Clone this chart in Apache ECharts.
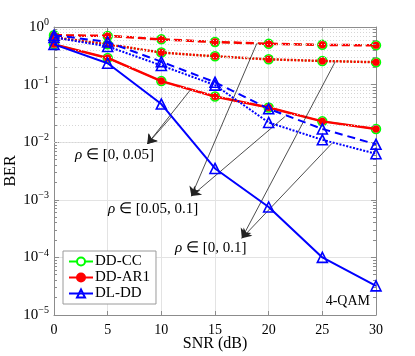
<!DOCTYPE html>
<html>
<head>
<meta charset="utf-8">
<script src="https://cdn.jsdelivr.net/npm/echarts@6/dist/echarts.min.js"></script>
<style>
html,body{margin:0;padding:0;background:#fff;}
#c{width:415px;height:356px;}
</style>
</head>
<body>
<div id="c"></div>
<script>
// ---- data ----
const snr = [0, 5, 10, 15, 20, 25, 30];
const xTicks = [0, 5, 10, 15, 20, 25, 30];
const yTickExps = [0, -1, -2, -3, -4, -5];
const legendNames = ['DD-CC', 'DD-AR1', 'DL-DD'];

// rho in [0, 0.05]  (solid)
const cc_a   = [0.50, 0.29, 0.115, 0.062, 0.040, 0.023, 0.017];
const ar1_a  = [0.50, 0.29, 0.115, 0.062, 0.040, 0.023, 0.017];
const dl_a   = [0.50, 0.235, 0.046, 0.0035, 0.00075, 0.0001, 0.000032];
// rho in [0.05, 0.1] (dashed)
const cc_b   = [0.72, 0.70, 0.61, 0.55, 0.51, 0.49, 0.48];
const ar1_b  = [0.72, 0.70, 0.61, 0.55, 0.51, 0.49, 0.48];
const dl_b   = [0.72, 0.55, 0.25, 0.11, 0.038, 0.017, 0.0092];
// rho in [0, 0.1] (dotted)
const cc_c   = [0.66, 0.50, 0.36, 0.31, 0.275, 0.257, 0.245];
const ar1_c  = [0.66, 0.50, 0.36, 0.31, 0.275, 0.257, 0.245];
const dl_c   = [0.66, 0.46, 0.215, 0.098, 0.022, 0.011, 0.0063];

// annotation arrows (data space): [tail, head]
const arrowsA = [[[12.7, 0.0806], [8.7, 0.0093]], [[11.0, 0.0285], [8.7, 0.0093]]];
const arrowsB = [[[18.9, 0.521], [12.8, 0.00116]], [[21.5, 0.0277], [12.8, 0.00116]]];
const arrowsC = [[[26.2, 0.25], [17.5, 0.000215]], [[25.9, 0.00957], [17.5, 0.000215]]];
const labelA = 'ρ ∈ [0, 0.05]';
const labelB = 'ρ ∈ [0.05, 0.1]';
const labelC = 'ρ ∈ [0, 0.1]';
const labelQ = '4-QAM';

// ---- build ----
const FONT = 'Liberation Serif';
const pair = (ys) => snr.map((x, i) => [x, ys[i]]);
const richRho = (s) => '{i|ρ}' + s.slice(1);

const minorVals = [];
for (let e = -5; e < 0; e++) for (let m = 2; m <= 9; m++) minorVals.push(m * Math.pow(10, e));

const gridMinor = minorVals.map(v => ({ yAxis: v }));
const tickMinor = [];
minorVals.forEach(v => {
  tickMinor.push([{ coord: [0, v] }, { coord: [0.28, v] }]);
  tickMinor.push([{ coord: [29.72, v] }, { coord: [30, v] }]);
});

const GREEN = '#00ff00', RED = '#ff0000', BLUE = '#0000ff';
const styles = [
  { dr: 'solid', db: 'solid' },
  { dr: [8, 4], db: [8, 5] },
  { dr: [2, 1.5], db: [2, 1.5] }
];
const sets = [[cc_a, ar1_a, dl_a], [cc_b, ar1_b, dl_b], [cc_c, ar1_c, dl_c]];

const series = [];
series.push({
  type: 'line', name: '_grid', data: [], silent: true, z: 1,
  markLine: {
    silent: true, symbol: 'none', animation: false, label: { show: false },
    lineStyle: { color: '#d6d6d6', width: 1, type: [1, 2] },
    data: gridMinor
  }
});
series.push({
  type: 'line', name: '_ticks', data: [], silent: true, z: 1,
  markLine: {
    silent: true, symbol: 'none', animation: false, label: { show: false },
    lineStyle: { color: '#8c8c8c', width: 1, type: 'solid' },
    data: tickMinor
  }
});
sets.forEach((s, k) => {
  series.push({
    type: 'line', name: 'DD-CC', data: pair(s[0]), symbol: 'circle', symbolSize: 9, z: 3,
    lineStyle: { color: GREEN, width: 1.5, type: styles[k].dr },
    itemStyle: { color: '#ffffff', borderColor: GREEN, borderWidth: 1.5 }
  });
});
sets.forEach((s, k) => {
  series.push({
    type: 'line', name: 'DD-AR1', data: pair(s[1]), symbol: 'circle', symbolSize: 7, z: 4,
    lineStyle: { color: RED, width: 2.5, type: styles[k].dr },
    itemStyle: { color: RED, borderColor: RED, borderWidth: 0.5 }
  });
});
sets.forEach((s, k) => {
  series.push({
    type: 'line', name: 'DL-DD', data: pair(s[2]), symbol: 'triangle', symbolSize: 10, z: 5,
    lineStyle: { color: BLUE, width: 2, type: styles[k].db },
    itemStyle: { color: 'rgba(255,255,255,0)', borderColor: BLUE, borderWidth: 1.6 }
  });
});
const arrowData = [].concat(arrowsA, arrowsB, arrowsC).map(a => [{ coord: a[0] }, { coord: a[1] }]);
series.push({
  type: 'line', name: '_arrows', data: [], silent: true, z: 6,
  markLine: {
    silent: true, animation: false, symbol: ['none', 'arrow'], symbolSize: 9,
    label: { show: false },
    lineStyle: { color: '#222', width: 0.8, type: 'solid' },
    itemStyle: { color: '#000' },
    data: arrowData
  }
});

const chart = echarts.init(document.getElementById('c'), null, { renderer: 'canvas' });
const txt = (s, left, top) => ({
  type: 'text', left: left, top: top, silent: true, z: 10,
  style: { text: richRho(s), font: '15px ' + FONT, fill: '#000',
    rich: { i: { fontStyle: 'italic', fontFamily: FONT, fontSize: 15 } } }
});
const option = {
  animation: false,
  backgroundColor: '#fff',
  grid: { left: 54, right: 39, top: 27, bottom: 41, containLabel: false, outerBoundsMode: 'none' },
  legend: {
    data: legendNames,
    orient: 'vertical', left: 63, top: 251,
    itemWidth: 24, itemHeight: 10, itemGap: 1,
    padding: [3, 6, 3, 5],
    backgroundColor: '#fff', borderColor: '#9a9a9a', borderWidth: 1, borderRadius: 0,
    textStyle: { fontFamily: FONT, fontSize: 15, color: '#000', lineHeight: 15, padding: [0, 0, 0, -3] }
  },
  xAxis: [{
    type: 'value', min: 0, max: 30, interval: 5, position: 'bottom',
    name: 'SNR (dB)', nameLocation: 'middle', nameGap: 21, nameMoveOverlap: false,
    nameTextStyle: { fontFamily: FONT, fontSize: 16, color: '#000' },
    axisLine: { show: true, onZero: false, lineStyle: { color: '#8c8c8c', width: 1 } },
    axisTick: { show: true, inside: true, length: 4, lineStyle: { color: '#8c8c8c' } },
    axisLabel: { fontFamily: FONT, fontSize: 14, color: '#000', margin: 8 },
    splitLine: { show: true, lineStyle: { color: '#e3e3e3', width: 1 } }
  }, {
    type: 'value', min: 0, max: 30, interval: 5, position: 'top',
    axisLine: { show: true, onZero: false, lineStyle: { color: '#8c8c8c', width: 1 } },
    axisTick: { show: true, inside: true, length: 4, lineStyle: { color: '#8c8c8c' } },
    axisLabel: { show: false }, splitLine: { show: false }
  }],
  yAxis: [{
    type: 'log', logBase: 10, min: 1e-5, max: 1, splitNumber: 5, position: 'left',
    name: 'BER', nameLocation: 'middle', nameGap: 35, nameMoveOverlap: false,
    nameTextStyle: { fontFamily: FONT, fontSize: 16, color: '#000' },
    axisLine: { show: true, onZero: false, lineStyle: { color: '#8c8c8c', width: 1 } },
    axisTick: { show: true, inside: true, length: 5, lineStyle: { color: '#8c8c8c' } },
    axisLabel: {
      margin: 5,
      formatter: function (v) {
        const e = Math.round(Math.log10(v));
        return '{b|10}{s|' + (e < 0 ? '\u2212' + (-e) : String(e)) + '}';
      },
      rich: {
        b: { fontFamily: FONT, fontSize: 15, color: '#000' },
        s: { fontFamily: FONT, fontSize: 10, color: '#000', padding: [0, 0, 9, 0] }
      }
    },
    splitLine: { show: true, lineStyle: { color: '#e3e3e3', width: 1 } }
  }, {
    type: 'log', logBase: 10, min: 1e-5, max: 1, splitNumber: 5, position: 'right',
    axisLine: { show: true, onZero: false, lineStyle: { color: '#8c8c8c', width: 1 } },
    axisTick: { show: true, inside: true, length: 5, lineStyle: { color: '#8c8c8c' } },
    axisLabel: { show: false }, splitLine: { show: false }
  }],
  graphic: [
    txt(labelA, 75, 148),
    txt(labelB, 108, 202),
    txt(labelC, 175, 241),
    { type: 'text', right: 45, top: 294, silent: true,
      style: { text: labelQ, font: '14px ' + FONT, fill: '#000' } }
  ],
  series: series
};
chart.setOption(option);
</script>
</body>
</html>
